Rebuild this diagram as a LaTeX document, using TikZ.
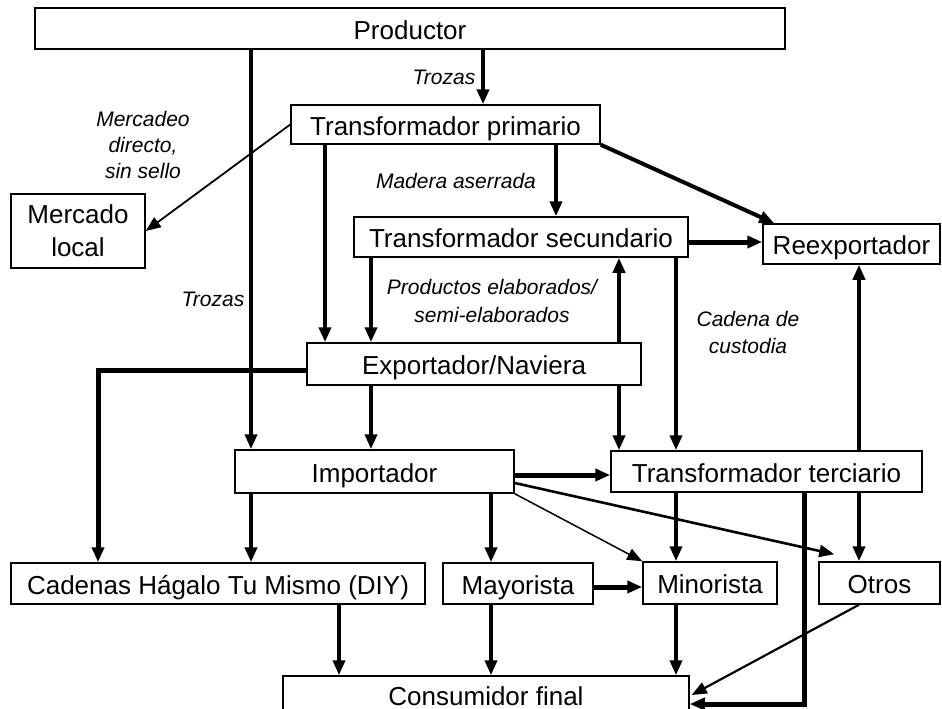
\documentclass[tikz,border=0pt]{standalone}
\usepackage{fontspec}
\setmainfont{Liberation Sans}
\usetikzlibrary{arrows.meta,calc}
\begin{document}
\begin{tikzpicture}[x=1pt,y=-1pt,
  box/.style={draw, line width=1.5pt, inner sep=0pt, font=\fontsize{26}{30}\selectfont, text height=22.5pt, text depth=1pt},
  boxm/.style={draw, line width=1.5pt, inner sep=0pt, font=\fontsize{26}{33}\selectfont, align=center},
  lab/.style={font=\fontsize{21}{26}\selectfont\itshape, align=center, inner sep=0pt},
  tk/.style={line width=4pt, -{Triangle[length=15pt,width=12pt]}},
  tn/.style={line width=1.8pt, -{Triangle[length=15pt,width=12pt]}}]
\useasboundingbox (0,0) rectangle (942,709);
\fill[white] (0,0) rectangle (942,709);
% boxes
\node[box, minimum width=750pt, minimum height=41pt] (prod) at (410,28.5) {Productor};
\node[box, minimum width=309pt, minimum height=39pt] (tp) at (445.5,124.5) {Transformador primario};
\node[boxm, minimum width=134pt, minimum height=74pt] (ml) at (78,231) {Mercado\\local};
\node[box, minimum width=334pt, minimum height=40pt] (ts) at (521,237) {Transformador secundario};
\node[box, minimum width=177pt, minimum height=40pt] (rx) at (851.5,244) {Reexportador};
\node[box, minimum width=334pt, minimum height=42pt] (ex) at (474,364) {Exportador/Naviera};
\node[box, minimum width=279pt, minimum height=43pt] (imp) at (374.5,471.5) {Importador};
\node[box, minimum width=311pt, minimum height=41pt] (tt) at (766.5,471.5) {Transformador terciario};
\node[box, minimum width=414pt, minimum height=41pt] (diy) at (218,583.5) {Cadenas Hágalo Tu Mismo (DIY)};
\node[box, minimum width=150pt, minimum height=41pt] (may) at (518,583.5) {Mayorista};
\node[box, minimum width=134pt, minimum height=42pt] (min) at (710,583) {Minorista};
\node[box, minimum width=121pt, minimum height=42pt] (otr) at (879.5,583) {Otros};
\node[box, text height=18.5pt, text depth=5pt, minimum width=406pt, minimum height=46pt] (cons) at (486,699) {Consumidor final};
% labels
\node[lab] (l1) at (444,77) {Trozas};
\node[lab] (l2) at (143,145) {Mercadeo\\directo,\\sin sello};
\node[lab] (l3) at (456,181) {Madera aserrada};
\node[lab] (l4) at (213,299) {Trozas};
\node[lab, font=\fontsize{21}{28}\selectfont\itshape] (l5) at (492,301) {Productos elaborados/\\semi-elaborados};
\node[lab, font=\fontsize{21}{27}\selectfont\itshape] (l6) at (748,332) {Cadena de\\custodia};
% helper coordinates
\coordinate (c98) at (98,0);
\coordinate (c251) at (251,0);
\coordinate (c325) at (325,0);
\coordinate (c339) at (339,0);
\coordinate (c371) at (371,0);
\coordinate (c483) at (483,0);
\coordinate (c491) at (491,0);
\coordinate (c556) at (556,0);
\coordinate (c619) at (619,0);
\coordinate (c676) at (676,0);
\coordinate (c804) at (804,0);
\coordinate (c859) at (859,0);
\coordinate (r242) at (0,242);
\coordinate (r370) at (0,370);
\coordinate (r475) at (0,475);
\coordinate (r483) at (0,483);
\coordinate (r587) at (0,587);
\coordinate (r695) at (0,695);
\coordinate (r704) at (0,704);
% connectors
\draw[tk] (prod.south -| c483) -- (tp.north -| c483);
\draw[tk] (prod.south -| c251) -- (imp.north -| c251);
\draw[tn] (tp.west) -- (ml.east);
\draw[tk] (tp.south -| c325) -- (ex.north -| c325);
\draw[tk] (tp.south -| c556) -- (ts.north -| c556);
\draw[tk] (tp.south east) -- ($(rx.north west)+(12,0)$);
\draw[tk, line width=5pt] (ts.east |- r242) -- (rx.west |- r242);
\draw[tk] (ts.south -| c371) -- (ex.north -| c371);
\draw[tk] (ex.north -| c619) -- (ts.south -| c619);
\draw[tk] (ts.south -| c676) -- (tt.north -| c676);
\draw[tk] (tt.north -| c859) -- (rx.south -| c859);
\draw[tk, line width=5pt] (ex.west |- r370) -| (diy.north -| c98);
\draw[tk] (ex.south -| c371) -- (imp.north -| c371);
\draw[tk] (ex.south -| c619) -- (tt.north -| c619);
\draw[tk, line width=5pt] (imp.east |- r475) -- (tt.west |- r475);
\draw[tk] (imp.south -| c251) -- (diy.north -| c251);
\draw[tk] (imp.south -| c491) -- (may.north -| c491);
\draw[tn, line width=1.5pt] (imp.south east) -- (min.north west);
\draw[tn, line width=2.6pt] (imp.east |- r483) -- ($(otr.north west)+(16,-7)$);
\draw[tk] (tt.south -| c676) -- (min.north -| c676);
\draw[tk, line width=5pt] (tt.south -| c804) |- (cons.east |- r704);
\draw[tk] (tt.south -| c859) -- (otr.north -| c859);
\draw[tk, line width=5pt] (may.east |- r587) -- (min.west |- r587);
\draw[tk] (diy.south -| c339) -- (cons.north -| c339);
\draw[tk] (may.south -| c491) -- (cons.north -| c491);
\draw[tk] (min.south -| c676) -- (cons.north -| c676);
\draw[tn, line width=2.2pt] (otr.south -| c859) -- ($(cons.east |- r695)+(2,0)$);
\end{tikzpicture}
\end{document}
